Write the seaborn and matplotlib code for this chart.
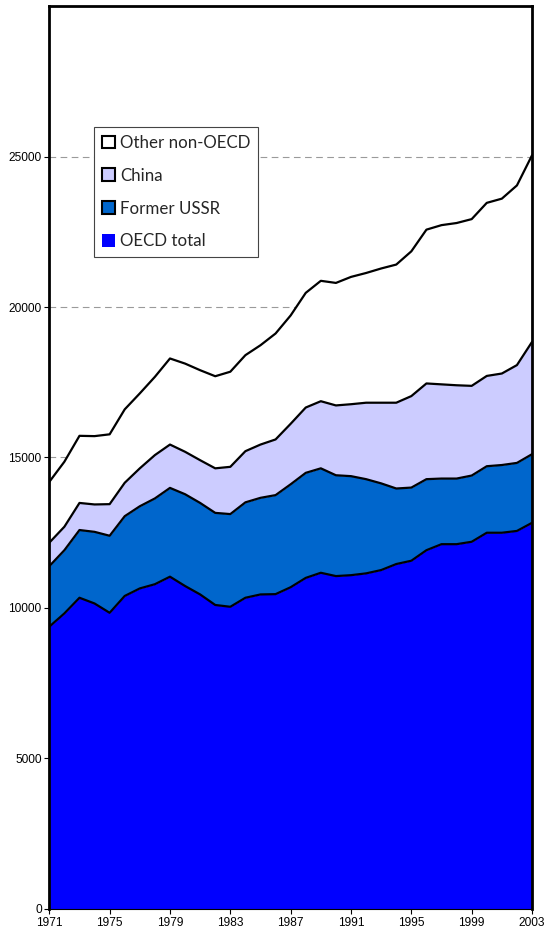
import numpy as np
import pandas as pd
import matplotlib
matplotlib.use("Agg")
import matplotlib.pyplot as plt
import seaborn as sns
from matplotlib.patches import Patch

# Data (thousands, cumulative levels converted to layers below)
years = list(range(1971, 2004))

oecd_top = [9.38, 9.82, 10.34, 10.15, 9.84, 10.40, 10.65, 10.79, 11.04, 10.73,
            10.45, 10.10, 10.04, 10.34, 10.45, 10.46, 10.69, 11.00, 11.17, 11.06,
            11.09, 11.15, 11.26, 11.46, 11.57, 11.92, 12.12, 12.12, 12.20, 12.50,
            12.50, 12.56, 12.83]
ussr_top = [11.39, 11.92, 12.59, 12.53, 12.40, 13.05, 13.38, 13.64, 13.99, 13.78,
            13.49, 13.16, 13.12, 13.51, 13.66, 13.75, 14.11, 14.49, 14.64, 14.41,
            14.38, 14.28, 14.14, 13.97, 14.00, 14.28, 14.30, 14.30, 14.40, 14.71,
            14.75, 14.82, 15.11]
china_top = [12.17, 12.70, 13.49, 13.44, 13.45, 14.16, 14.64, 15.08, 15.43, 15.19,
             14.91, 14.64, 14.69, 15.21, 15.43, 15.60, 16.12, 16.66, 16.87, 16.73,
             16.77, 16.82, 16.82, 16.82, 17.04, 17.46, 17.43, 17.40, 17.38, 17.71,
             17.79, 18.07, 18.84]
total_top = [14.19, 14.86, 15.72, 15.71, 15.77, 16.60, 17.13, 17.68, 18.29, 18.12,
             17.90, 17.70, 17.85, 18.40, 18.73, 19.12, 19.72, 20.47, 20.87, 20.80,
             21.00, 21.13, 21.28, 21.41, 21.85, 22.57, 22.72, 22.79, 22.92, 23.46,
             23.60, 24.04, 25.04]

series = ["OECD total", "Former USSR", "China", "Other non-OECD"]
colors = ["#0000FF", "#0066CC", "#CCCCFF", "#FFFFFF"]

df = pd.DataFrame({
    "year": years,
    "OECD total": np.array(oecd_top) * 1000,
    "Former USSR": np.array(ussr_top) * 1000,
    "China": np.array(china_top) * 1000,
    "Other non-OECD": np.array(total_top) * 1000,
})

sns.set_style("white")
plt.rcParams["font.family"] = ["Liberation Sans", "DejaVu Sans"]

fig = plt.figure(figsize=(5.46, 9.40), dpi=100)
ax = fig.add_axes([0.0903, 0.033, 0.8841, 0.9606])

# layers for the stack
layers = [df[series[0]].values]
for lo, hi in zip(series[:-1], series[1:]):
    layers.append(df[hi].values - df[lo].values)
ax.stackplot(df["year"], *layers, colors=colors, linewidth=0, zorder=2)

# black outlines on top of each layer
long = df.melt(id_vars="year", var_name="series", value_name="level")
sns.lineplot(data=long, x="year", y="level", units="series", estimator=None,
             color="black", linewidth=1.6, ax=ax, zorder=3)

ax.set_xlim(1971, 2003)
ax.set_ylim(0, 30000)
ax.set_xticks(range(1971, 2004, 4))
ax.set_yticks(range(0, 30000, 5000))
ax.set_xlabel("")
ax.set_ylabel("")
ax.yaxis.grid(True, color="#9a9a9a", linestyle=(0, (6, 4)), linewidth=0.8)
ax.set_axisbelow(True)
ax.tick_params(axis="both", direction="out", length=3.5, width=0.8,
               labelsize=8.6, pad=2, colors="black", left=True, bottom=True)
for side in ["left", "right", "top"]:
    ax.spines[side].set_color("black")
    ax.spines[side].set_linewidth(2.0)
ax.spines["bottom"].set_color("black")
ax.spines["bottom"].set_linewidth(0.8)
for s in ax.spines.values():
    s.set_zorder(5)

handles = [
    Patch(facecolor="#FFFFFF", edgecolor="black", linewidth=1.5, label="Other non-OECD"),
    Patch(facecolor="#CCCCFF", edgecolor="black", linewidth=1.5, label="China"),
    Patch(facecolor="#0066CC", edgecolor="black", linewidth=1.5, label="Former USSR"),
    Patch(facecolor="#0000FF", edgecolor="none", label="OECD total"),
]
leg = ax.legend(handles=handles, loc="upper left", bbox_to_anchor=(0.093, 0.866),
                frameon=True, fancybox=False, framealpha=1, edgecolor="#444444",
                prop={"family": "Lato", "size": 12.2}, handlelength=0.75,
                handleheight=0.75, handletextpad=0.35, labelspacing=1.0,
                borderpad=0.45, borderaxespad=0)
leg.get_frame().set_linewidth(0.8)
leg.set_zorder(6)

fig.savefig("out.png", dpi=100)
